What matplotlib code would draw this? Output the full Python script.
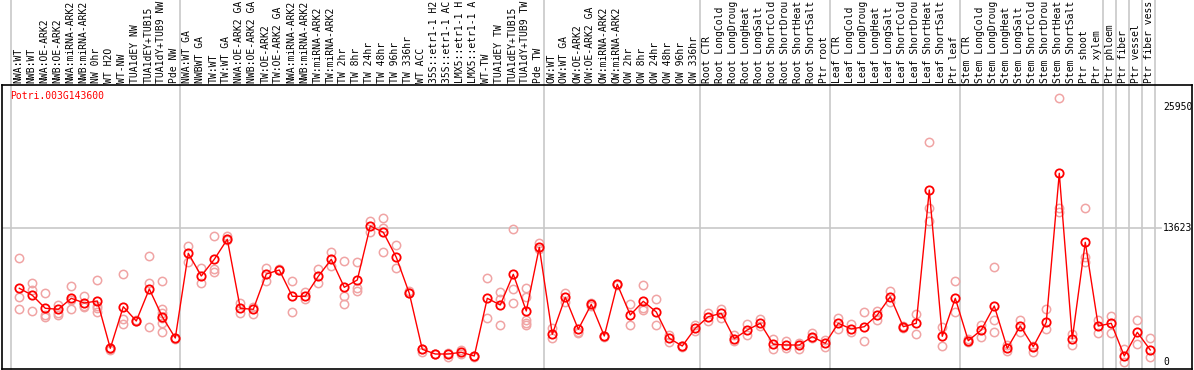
import matplotlib
matplotlib.use("Agg")
import matplotlib.pyplot as plt

gene = "Potri.003G143600"

labels = [
    "NWA:WT", "NWB:WT", "NWA:OE-ARK2", "NWB:OE-ARK2", "NWA:miRNA-ARK2",
    "NWB:miRNA-ARK2", "NW 0hr", "WT H2O", "WT-NW", "TUA1dEY NW",
    "TUA1dEY+TUB15", "TUA1dY+TUB9 NW", "Pde NW",
    "NWA:WT GA", "NWBWT GA", "TW:WT", "TW:WT GA", "NWA:OE-ARK2 GA",
    "NWB:OE-ARK2 GA", "TW:OE-ARK2", "TW:OE-ARK2 GA", "NWA:miRNA-ARK2",
    "NWB:miRNA-ARK2", "TW:miRNA-ARK2", "TW:miRNA-ARK2", "TW 2hr", "TW 8hr",
    "TW 24hr", "TW 48hr", "TW 96hr", "TW 336hr", "WT ACC", "35S::etr1-1 H2",
    "35S::etr1-1 AC", "LMX5::etr1-1 H", "LMX5::etr1-1 A", "WT-TW",
    "TUA1dEY TW", "TUA1dEY+TUB15", "TUA1dY+TUB9 TW", "Pde TW",
    "OW:WT", "OW:WT GA", "OW:OE-ARK2", "OW:OE-ARK2 GA", "OW:miRNA-ARK2",
    "OW:miRNA-ARK2", "OW 2hr", "OW 8hr", "OW 24hr", "OW 48hr", "OW 96hr",
    "OW 336hr",
    "Root CTR", "Root LongCold", "Root LongDroug", "Root LongHeat",
    "Root LongSalt", "Root ShortCold", "Root ShortDrou", "Root ShortHeat",
    "Root ShortSalt", "Ptr root",
    "Leaf CTR", "Leaf LongCold", "Leaf LongDroug", "Leaf LongHeat",
    "Leaf LongSalt", "Leaf ShortCold", "Leaf ShortDrou", "Leaf ShortHeat",
    "Leaf ShortSalt", "Ptr leaf",
    "Stem CTR", "Stem LongCold", "Stem LongDroug", "Stem LongHeat",
    "Stem LongSalt", "Stem ShortCold", "Stem ShortDrou", "Stem ShortHeat",
    "Stem ShortSalt", "Ptr shoot",
    "Ptr xylem", "Ptr phloem", "Ptr fiber", "Ptr vessel", "Ptr fiber vess",
]

means = [
    7478, 6764, 5440, 5338, 6459, 5980, 6184, 1365, 5603, 4146,
    7406, 4584, 2414, 11043, 8731, 10432, 12470, 5440, 5338, 8934,
    9342, 6662, 6662, 8700, 10432, 7580, 8323, 13824, 13183, 10636,
    6968, 1263, 784, 784, 958, 581, 6459, 5776, 8904, 5165,
    11654, 2791, 6561, 3300, 5848, 2618, 7885, 4758, 6153, 5063,
    2384, 1599, 3402, 4584, 4931, 2343, 3229, 3912, 1773, 1701,
    1701, 2547, 1874, 3912, 3331, 3566, 4758, 6622, 3566, 3912,
    17492, 2588, 6459, 2139, 3229, 5674, 1365, 3637, 1528, 4014,
    19193, 2312, 12164, 3637, 3912, 581, 2995, 1192,
]

replicates = [
    [10534, 6622, 5338], [7987, 7304, 5134], [6968, 4758, 4523],
    [5776, 4758, 5000], [7712, 5338, 6300], [6693, 5542, 5700],
    [8323, 5674, 5440, 5094], [1192, 1400, 1300], [8934, 4320, 3841],
    [4100, 4200], [10768, 7987, 3504], [8221, 5338, 4992, 4421, 3912, 3026],
    [2414, 2300], [11787, 10187], [9515, 7987], [12806, 9413, 9169],
    [12806, 12400], [5949, 4931], [5542, 4860], [9576, 8221],
    [9413, 9300], [8221, 5033], [7131, 6357], [9444, 8048],
    [11145, 9749], [10228, 6724, 5848], [10126, 7478, 7233], [14364, 13244],
    [14609, 13651, 11206], [11858, 9515], [7202, 7000], [1019, 1300],
    [784, 750], [509, 900], [1192, 800], [581, 500],
    [8496, 4421], [7070, 6357, 3708], [13519, 7376, 5949],
    [7478, 6622, 4248, 3912, 3708], [12123, 11500], [3402, 2384],
    [7029, 6112], [3056, 2954], [6000, 5700], [2618, 2500],
    [7885, 7800], [5848, 3708], [7814, 5267, 5500], [6357, 3708],
    [2720, 2037], [1599, 1500], [3708, 3127], [4931, 4100],
    [5338, 4421], [2700, 2100], [3841, 2720], [4320, 3600],
    [2282, 1263], [2100, 1400], [1900, 1250], [2954, 2400],
    [2200, 1500], [4482, 3300], [3800, 3000], [5033, 2139],
    [5196, 4248], [7233, 6112], [3600, 3400], [4829, 2791],
    [22351, 15627, 14364], [3504, 1630], [8191, 5094], [2300, 2000],
    [3739, 2547], [9617, 4248, 3056], [1700, 1100], [4248, 3056],
    [1019, 1600], [5338, 3300], [26833, 15627, 15281], [2822, 1701],
    [15627, 10697, 10187], [4248, 2893], [4686, 2893], [1263, 0],
    [4248, 1773], [2384, 509],
]

# last column of each group (separator drawn right after it)
group_ends = [-1, 12, 40, 52, 62, 72, 83, 84, 85, 86, 87]
ytick_vals = [25950, 13623, 0]

mono = "DejaVu Sans Mono"

fig = plt.figure(figsize=(11.94, 3.70), dpi=100)
W, H = 1194, 370
ax = fig.add_axes([2 / W, 1 - 369 / H, 1190 / W, 284 / H])
ax.set_xlim(-1.331, 90.21)
ax.set_ylim(-744, 28189)

for s in ax.spines.values():
    s.set_color("black")
    s.set_linewidth(1.2)
ax.set_xticks([])
ax.set_yticks([])

# grid line at mid tick
ax.plot([-1.331, 87.85], [13623, 13623], color="#c8c8c8", lw=1.2, zorder=1)

# group separators through header and plot
xt = ax.get_xaxis_transform()
for g in group_ends:
    ax.plot([g + 0.36, g + 0.36], [0, 85 / 284 + 1.01], transform=xt,
            color="#c8c8c8", lw=1.2, clip_on=False, zorder=1)

x = list(range(len(labels)))
for i, reps in enumerate(replicates):
    ax.plot([i] * len(reps), reps, "o", ms=6, mfc="none", mec="#f0a4a4",
            mew=1.1, zorder=2)
ax.plot(x, means, "-", color="red", lw=1, zorder=3)
ax.plot(x, means, "o", ms=6, mfc="none", mec="red", mew=1.3, zorder=4)

for i, lab in enumerate(labels):
    ax.annotate(lab, xy=(i - 0.08, 1), xycoords=xt, xytext=(0, 2),
                textcoords="offset pixels", rotation=90, ha="center",
                va="bottom", fontsize=7, family=mono, annotation_clip=False)

for v in ytick_vals:
    ax.text(88.0, v, str(v), fontsize=7, family=mono,
            ha="left", va="center")

ax.text(0.007, 0.96, gene, transform=ax.transAxes, color="red",
        fontsize=7, family=mono, ha="left", va="center")

fig.savefig("out.png", dpi=100)
